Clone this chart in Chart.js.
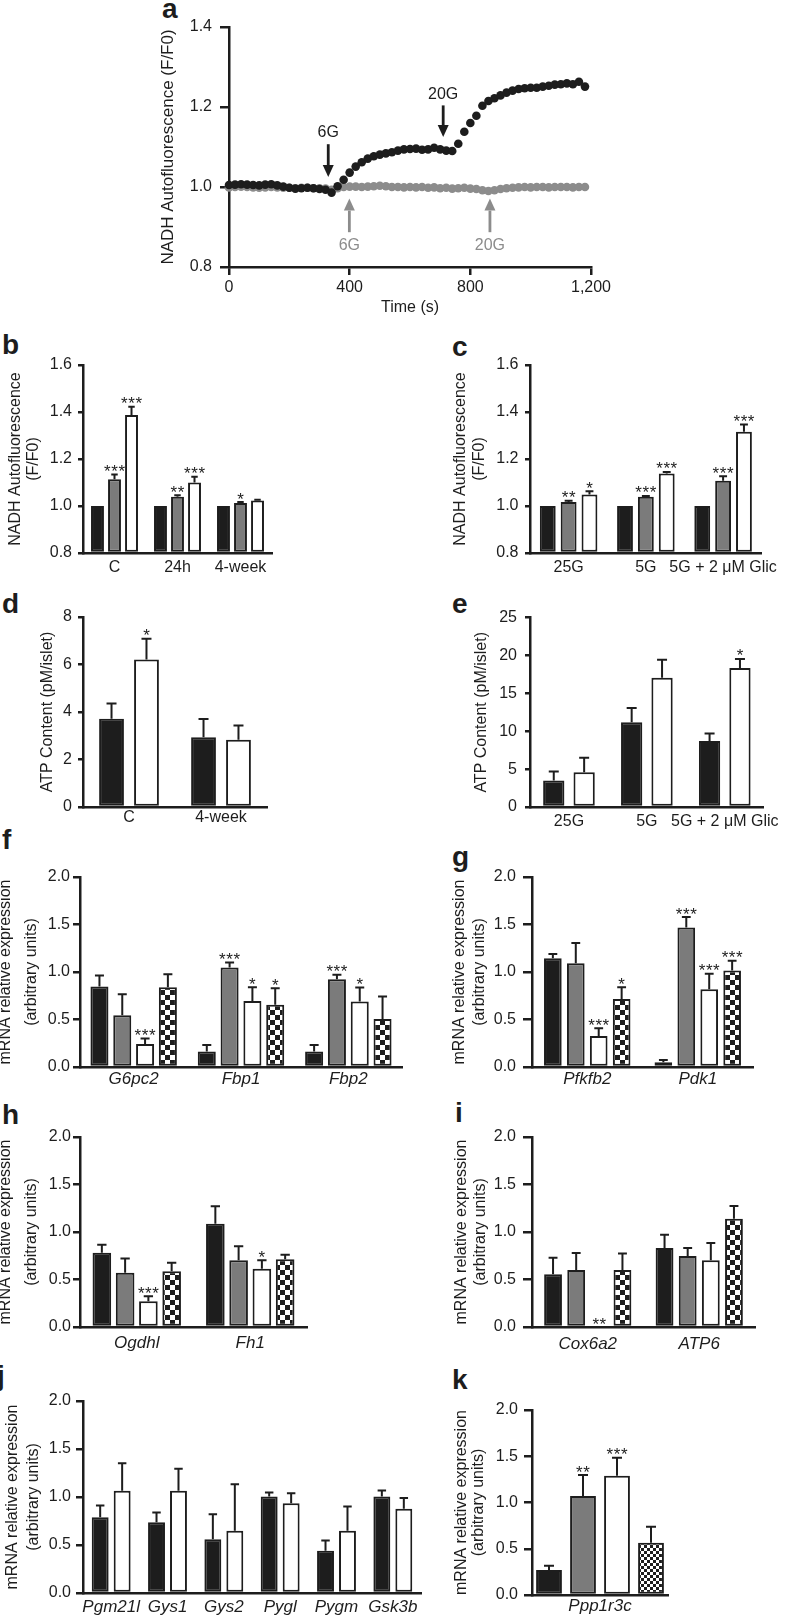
<!DOCTYPE html>
<html>
<head>
<meta charset="utf-8">
<script src="https://cdn.jsdelivr.net/npm/chart.js@4.4.0/dist/chart.umd.min.js"></script>
<style>
    body { margin: 0; background: #fff; width: 788px; height: 1619px; position: relative; overflow: hidden;
           font-family: "Liberation Sans", Arial, sans-serif; }
    canvas { position: absolute; }
    .tag { position: absolute; font-weight: bold; font-size: 28px; line-height: 28px; color: #1d1d1d; }
</style>
</head>
<body>
<div class="tag" style="left:162px;top:-5px">a</div>
<div class="tag" style="left:2px;top:331px">b</div>
<div class="tag" style="left:452px;top:333px">c</div>
<div class="tag" style="left:2px;top:590px">d</div>
<div class="tag" style="left:452px;top:590px">e</div>
<div class="tag" style="left:2px;top:826px">f</div>
<div class="tag" style="left:452px;top:843px">g</div>
<div class="tag" style="left:2px;top:1101px">h</div>
<div class="tag" style="left:455px;top:1099px">i</div>
<div class="tag" style="left:-3px;top:1362px">j</div>
<div class="tag" style="left:452px;top:1366px">k</div>

<canvas id="chartA"></canvas>
<canvas id="chartB"></canvas>
<canvas id="chartC"></canvas>
<canvas id="chartD"></canvas>
<canvas id="chartE"></canvas>
<canvas id="chartF"></canvas>
<canvas id="chartG"></canvas>
<canvas id="chartH"></canvas>
<canvas id="chartI"></canvas>
<canvas id="chartJ"></canvas>
<canvas id="chartK"></canvas>

<script>
// ---------- panel a : NADH trace ----------
const aTime = [0, 20, 40, 60, 80, 100, 120, 140, 160, 180, 200, 220, 240, 260, 280, 300, 320, 340, 360, 380,
               400, 420, 440, 460, 480, 500, 520, 540, 560, 580, 600, 620, 640, 660, 680, 700, 720, 740, 760, 780,
               800, 820, 840, 860, 880, 900, 920, 940, 960, 980, 1000, 1020, 1040, 1060, 1080, 1100, 1120, 1140, 1160, 1180];
const aBlack = [1.005, 1.006, 1.007, 1.006, 1.005, 1.004, 1.006, 1.007, 1.004, 1.001, 0.998, 0.996, 0.997, 0.998, 0.997, 0.995, 0.993, 0.986, 1.002, 1.018,
                1.036, 1.051, 1.062, 1.071, 1.077, 1.081, 1.084, 1.087, 1.091, 1.094, 1.095, 1.096, 1.093, 1.094, 1.098, 1.094, 1.091, 1.090, 1.108, 1.138,
                1.160, 1.178, 1.203, 1.215, 1.222, 1.229, 1.236, 1.241, 1.245, 1.247, 1.248, 1.248, 1.251, 1.253, 1.256, 1.257, 1.259, 1.257, 1.263, 1.251];
const aGray = [0.999, 1.000, 1.001, 1.000, 0.999, 0.998, 0.999, 1.000, 0.999, 0.998, 0.998, 0.997, 0.998, 0.998, 0.997, 0.997, 0.996, 0.993, 0.997, 1.000,
               1.001, 1.001, 1.000, 1.001, 1.002, 1.003, 1.002, 1.000, 1.000, 0.999, 1.000, 0.999, 1.000, 0.998, 0.999, 0.997, 0.998, 0.996, 0.997, 0.998,
               0.996, 0.995, 0.992, 0.990, 0.992, 0.995, 0.997, 0.998, 0.999, 1.000, 0.999, 1.000, 1.000, 0.999, 1.000, 1.000, 1.000, 0.999, 1.000, 1.000];
// glucose additions marked with arrows
const arrowTime = [329, 710, 399, 865];
const arrowTip = [1.025, 1.125, 0.971, 0.971];
const arrowTail = [1.107, 1.204, 0.887, 0.887];
const arrowTextAt = [1.135, 1.232, 0.854, 0.854];
const arrowText = ['6G', '20G', '6G', '20G'];

// ---------- panel b ----------
const bCats = ['C', '24h', '4-week'];
const bBlack = [1.0, 1.0, 1.0];
const bGray = [1.114, 1.039, 1.013];
const bWhite = [1.387, 1.100, 1.023];
const bGrayHi = [1.134, 1.046, 1.017];
const bWhiteHi = [1.422, 1.124, 1.027];
const bGrayStars = ['***', '**', '*'];
const bWhiteStars = ['***', '***', ''];

// ---------- panel c ----------
const cCats = ['25G', '5G', '5G + 2 \u03bcM Glic'];
const cBlack = [1.0, 1.0, 1.0];
const cGray = [1.017, 1.039, 1.107];
const cWhite = [1.049, 1.138, 1.316];
const cGrayHi = [1.022, 1.043, 1.127];
const cWhiteHi = [1.063, 1.145, 1.347];
const cGrayStars = ['**', '***', '***'];
const cWhiteStars = ['*', '***', '***'];

// ---------- panel d ----------
const dCats = ['C', '4-week'];
const dBlack = [3.72, 2.94];
const dWhite = [6.21, 2.83];
const dBlackHi = [4.36, 3.71];
const dWhiteHi = [7.08, 3.43];
const dWhiteStars = ['*', ''];

// ---------- panel e ----------
const eCats = ['25G', '5G', '5G + 2 \u03bcM Glic'];
const eBlack = [3.50, 11.19, 8.70];
const eWhite = [4.59, 17.05, 18.36];
const eBlackHi = [4.68, 13.07, 9.70];
const eWhiteHi = [6.51, 19.45, 19.54];
const eWhiteStars = ['', '', '*'];

// ---------- panel f ----------
const fCats = ['G6pc2', 'Fbp1', 'Fbp2'];
const fBlack = [0.847, 0.162, 0.162];
const fBlackHi = [0.963, 0.232, 0.232];
const fGray = [0.545, 1.047, 0.924];
const fGrayHi = [0.766, 1.100, 0.970];
const fWhite = [0.243, 0.696, 0.690];
const fWhiteHi = [0.300, 0.840, 0.837];
const fCheck = [0.840, 0.654, 0.506];
const fCheckHi = [0.977, 0.830, 0.742];
const fGrayStars = ['', '***', '***'];
const fWhiteStars = ['***', '*', '*'];
const fCheckStars = ['', '*', ''];

// ---------- panel g ----------
const gCats = ['Pfkfb2', 'Pdk1'];
const gBlack = [1.146, 0.050];
const gBlackHi = [1.190, 0.075];
const gGray = [1.093, 1.469];
const gGrayHi = [1.304, 1.578];
const gWhite = [0.327, 0.819];
const gWhiteHi = [0.408, 0.981];
const gCheck = [0.717, 1.016];
const gCheckHi = [0.840, 1.118];
const gGrayStars = ['', '***'];
const gWhiteStars = ['***', '***'];
const gCheckStars = ['*', '***'];

// ---------- panel h ----------
const hCats = ['Ogdhl', 'Fh1'];
const hBlack = [0.782, 1.088];
const hBlackHi = [0.867, 1.270];
const hGray = [0.572, 0.702];
const hGrayHi = [0.720, 0.849];
const hWhite = [0.270, 0.614];
const hWhiteHi = [0.323, 0.702];
const hCheck = [0.586, 0.712];
const hCheckHi = [0.677, 0.761];
const hWhiteStars = ['***', '*'];

// ---------- panel i ----------
const iCats = ['Cox6a2', 'ATP6'];
const iBlack = [0.554, 0.832];
const iBlackHi = [0.730, 0.972];
const iGray = [0.600, 0.747];
const iGrayHi = [0.780, 0.832];
const iWhite = [0, 0.702];
const iWhiteHi = [null, 0.884];
const iCheck = [0.600, 1.140];
const iCheckHi = [0.775, 1.274];
const iWhiteStars = ['**', ''];

// ---------- panel j ----------
const jCats = ['Pgm21l', 'Gys1', 'Gys2', 'Pygl', 'Pygm', 'Gsk3b'];
const jBlack = [0.790, 0.738, 0.560, 1.005, 0.440, 1.005];
const jBlackHi = [0.912, 0.839, 0.820, 1.047, 0.548, 1.068];
const jWhite = [1.064, 1.064, 0.648, 0.936, 0.648, 0.877];
const jWhiteHi = [1.352, 1.293, 1.133, 1.040, 0.900, 0.990];

// ---------- panel k ----------
const kCats = ['Ppp1r3c'];
const kBlack = [0.270];
const kBlackHi = [0.317];
const kGray = [1.070];
const kGrayHi = [1.297];
const kWhite = [1.290];
const kWhiteHi = [1.485];
const kCheck = [0.566];
const kCheckHi = [0.739];
const kGrayStars = ['**'];
const kWhiteStars = ['***'];

// ---------- styling ----------
const INK = '#1d1d1d';
const GRAY = '#7b7b7b';
const DOT_GRAY = '#8c8c8c';
const FONT = '"Liberation Sans", Arial, sans-serif';

function place(canvas, left, top, width, height) {
    canvas.width = width;
    canvas.height = height;
    canvas.style.left = left + 'px';
    canvas.style.top = top + 'px';
}

function checkerTile(cell) {
    const c = document.createElement('canvas');
    c.width = c.height = cell * 2;
    const g = c.getContext('2d');
    g.fillStyle = '#fff';
    g.fillRect(0, 0, cell * 2, cell * 2);
    g.fillStyle = INK;
    g.fillRect(0, 0, cell, cell);
    g.fillRect(cell, cell, cell, cell);
    return c;
}

function fillFor(kind, cell) {
    if (kind === 'k') return INK;
    if (kind === 'g') return GRAY;
    if (kind === 'w') return '#ffffff';
    const tile = checkerTile(cell);
    return (ctx) => ctx.chart.ctx.createPattern(tile, 'repeat');
}

function drawStars(ctx, x, y, n) {
    const gap = 7.2;
    ctx.save();
    ctx.fillStyle = INK;
    ctx.font = '17px ' + FONT;
    ctx.textAlign = 'center';
    ctx.textBaseline = 'alphabetic';
    for (let k = 0; k < n; k++) {
        ctx.fillText('*', x + (k - (n - 1) / 2) * gap, y + 7.5);
    }
    ctx.restore();
}

// SEM whiskers (upper only) and significance marks
const errorBars = {
    id: 'errorBars',
    afterDatasetsDraw(chart) {
        const ctx = chart.ctx;
        const y = chart.scales.y;
        chart.data.datasets.forEach((ds, di) => {
            chart.getDatasetMeta(di).data.forEach((bar, i) => {
                let top = bar.y;
                const hi = ds.errHi ? ds.errHi[i] : null;
                if (hi != null) {
                    const py = y.getPixelForValue(hi);
                    const cap = Math.min(10, bar.width * 0.5) / 2;
                    ctx.save();
                    ctx.strokeStyle = INK;
                    ctx.lineWidth = 2;
                    ctx.beginPath();
                    ctx.moveTo(bar.x, bar.y);
                    ctx.lineTo(bar.x, py);
                    ctx.moveTo(bar.x - cap, py);
                    ctx.lineTo(bar.x + cap, py);
                    ctx.stroke();
                    ctx.restore();
                    top = py;
                }
                const s = ds.stars ? ds.stars[i] : '';
                if (s) drawStars(ctx, bar.x, top - 5, s.length);
            });
        });
    }
};

/**
 * Build one bar panel so that its plot area lands on `area` (page px)
 */
function barPanel(id, p) {
    const [cl, ct, cw, ch] = p.canvas;
    const [L, T, R, B] = p.area;
    const cv = document.getElementById(id);
    place(cv, cl, ct, cw, ch);

    const lh = p.titleX.length > 1 ? p.titleX[1] - p.titleX[0] : 19;
    const titlePad = p.titleX[0] - cl - lh / 2;

    new Chart(cv, {
        type: 'bar',
        data: {
            labels: p.cats,
            datasets: p.sets.map(s => ({
                data: s.data,
                errHi: s.hi || null,
                stars: s.stars || null,
                backgroundColor: fillFor(s.fill, p.cell || 5),
                borderColor: INK,
                borderWidth: 2,
                borderSkipped: false,
                base: p.yMin,
                categoryPercentage: p.cp,
                barPercentage: p.bp
            }))
        },
        options: {
            responsive: false,
            animation: false,
            events: [],
            layout: { padding: { top: T - ct, right: cl + cw - R, left: 0, bottom: 0 } },
            plugins: { legend: { display: false }, tooltip: { enabled: false } },
            scales: {
                x: {
                    grid: { display: false, drawTicks: false, tickLength: 0 },
                    border: { color: INK, width: 2.5 },
                    ticks: {
                        color: INK, autoSkip: false, maxRotation: 0, minRotation: 0,
                        padding: p.labelOffset - 8,
                        font: { family: FONT, size: p.italic ? 17 : 16, style: p.italic ? 'italic' : 'normal', lineHeight: 1 }
                    },
                    afterFit: (s) => { s.height = ct + ch - B; }
                },
                y: {
                    min: p.yMin, max: p.yMax,
                    grid: { drawOnChartArea: false, drawTicks: true, tickLength: p.tick[0], color: INK, lineWidth: 2.5 },
                    border: { color: INK, width: 2.5 },
                    ticks: {
                        stepSize: p.yStep, color: INK, padding: p.tick[1],
                        font: { family: FONT, size: 16 },
                        callback: (v) => Number(v).toFixed(p.dec)
                    },
                    title: {
                        display: true, text: p.title, color: INK,
                        font: { family: FONT, size: 16, lineHeight: lh + 'px' },
                        padding: { top: titlePad, bottom: 0 }
                    },
                    afterFit: (s) => { s.width = L - cl; }
                }
            }
        },
        plugins: [errorBars]
    });
}

// ---------- panel a chart ----------
const arrows = {
    id: 'arrows',
    afterDatasetsDraw(chart) {
        const ctx = chart.ctx;
        const xs = chart.scales.x, ys = chart.scales.y;
        arrowTime.forEach((t, i) => {
            const col = i < 2 ? INK : DOT_GRAY;
            const x = xs.getPixelForValue(t);
            const tip = ys.getPixelForValue(arrowTip[i]);
            const tail = ys.getPixelForValue(arrowTail[i]);
            const dir = Math.sign(tip - tail);
            const headH = 12, headW = 5.5;
            ctx.save();
            ctx.strokeStyle = col;
            ctx.fillStyle = col;
            ctx.lineWidth = 2.8;
            ctx.beginPath();
            ctx.moveTo(x, tail);
            ctx.lineTo(x, tip - dir * headH);
            ctx.stroke();
            ctx.beginPath();
            ctx.moveTo(x, tip);
            ctx.lineTo(x - headW, tip - dir * headH);
            ctx.lineTo(x + headW, tip - dir * headH);
            ctx.closePath();
            ctx.fill();
            ctx.font = '16px ' + FONT;
            ctx.textAlign = 'center';
            ctx.textBaseline = 'middle';
            ctx.fillText(arrowText[i], x, ys.getPixelForValue(arrowTextAt[i]));
            ctx.restore();
        });
    }
};

(function () {
    const cv = document.getElementById('chartA');
    const [cl, ct, cw, ch] = [150, 0, 490, 320];
    const [L, T, R, B] = [229, 27, 591, 267];
    place(cv, cl, ct, cw, ch);
    new Chart(cv, {
        type: 'scatter',
        data: {
            datasets: [
                { data: aTime.map((t, i) => ({ x: t, y: aBlack[i] })), backgroundColor: INK, borderColor: INK,
                  borderWidth: 0, pointRadius: 4.3, clip: false },
                { data: aTime.map((t, i) => ({ x: t, y: aGray[i] })), backgroundColor: DOT_GRAY, borderColor: DOT_GRAY,
                  borderWidth: 0, pointRadius: 4.3, clip: false }
            ]
        },
        options: {
            responsive: false,
            animation: false,
            events: [],
            layout: { padding: { top: T - ct, right: cl + cw - R, left: 0, bottom: 0 } },
            plugins: { legend: { display: false }, tooltip: { enabled: false } },
            scales: {
                x: {
                    type: 'linear', min: 0, max: 1200,
                    grid: { drawOnChartArea: false, drawTicks: true, tickLength: 8, color: INK, lineWidth: 2.5 },
                    border: { color: INK, width: 2.5 },
                    ticks: { stepSize: 400, color: INK, padding: 5, font: { family: FONT, size: 16, lineHeight: 1 },
                             callback: (v) => Number(v).toLocaleString('en-US') },
                    title: { display: true, text: 'Time (s)', color: INK, font: { family: FONT, size: 16 },
                             padding: { top: 0, bottom: 2.4 } },
                    afterFit: (s) => { s.height = ct + ch - B; }
                },
                y: {
                    min: 0.8, max: 1.4,
                    grid: { drawOnChartArea: false, drawTicks: true, tickLength: 9, color: INK, lineWidth: 2.5 },
                    border: { color: INK, width: 2.5 },
                    ticks: { stepSize: 0.2, color: INK, padding: 8, font: { family: FONT, size: 16 },
                             callback: (v) => Number(v).toFixed(1) },
                    title: { display: true, text: 'NADH Autofluorescence (F/F0)', color: INK,
                             font: { family: FONT, size: 17 }, padding: { top: 7.8, bottom: 0 } },
                    afterFit: (s) => { s.width = L - cl; }
                }
            }
        },
        plugins: [arrows]
    });
})();

// ---------- bar panels ----------
const nadhTitle = ['NADH Autofluorescence', '(F/F0)'];
const mrnaTitle = ['mRNA relative expression', '(arbitrary units)'];
const atpTitle = 'ATP Content (pM/islet)';

barPanel('chartB', {
    canvas: [0, 330, 300, 250], area: [83, 365, 272, 553],
    cats: bCats, yMin: 0.8, yMax: 1.6, yStep: 0.2, dec: 1,
    title: nadhTitle, titleX: [15.5, 33.5], labelOffset: 15, tick: [5, 6], cp: 0.81, bp: 0.76,
    sets: [
        { data: bBlack, fill: 'k' },
        { data: bGray, hi: bGrayHi, stars: bGrayStars, fill: 'g' },
        { data: bWhite, hi: bWhiteHi, stars: bWhiteStars, fill: 'w' }
    ]
});

barPanel('chartC', {
    canvas: [440, 330, 348, 250], area: [530, 365, 763, 553],
    cats: cCats, yMin: 0.8, yMax: 1.6, yStep: 0.2, dec: 1,
    title: nadhTitle, titleX: [460.7, 480], labelOffset: 15, tick: [5, 6.5], cp: 0.81, bp: 0.76,
    sets: [
        { data: cBlack, fill: 'k' },
        { data: cGray, hi: cGrayHi, stars: cGrayStars, fill: 'g' },
        { data: cWhite, hi: cWhiteHi, stars: cWhiteStars, fill: 'w' }
    ]
});

barPanel('chartD', {
    canvas: [0, 600, 300, 235], area: [83, 617, 267, 807],
    cats: dCats, yMin: 0, yMax: 8, yStep: 2, dec: 0,
    title: atpTitle, titleX: [47.5], labelOffset: 10.5, tick: [5, 6], cp: 0.76, bp: 0.71,
    sets: [
        { data: dBlack, hi: dBlackHi, fill: 'k' },
        { data: dWhite, hi: dWhiteHi, stars: dWhiteStars, fill: 'w' }
    ]
});

barPanel('chartE', {
    canvas: [440, 600, 348, 235], area: [530, 617, 773, 807],
    cats: eCats, yMin: 0, yMax: 25, yStep: 5, dec: 0,
    title: atpTitle, titleX: [482], labelOffset: 15, tick: [5, 8], cp: 0.78, bp: 0.70,
    sets: [
        { data: eBlack, hi: eBlackHi, fill: 'k' },
        { data: eWhite, hi: eWhiteHi, stars: eWhiteStars, fill: 'w' }
    ]
});

barPanel('chartF', {
    canvas: [-20, 840, 440, 255], area: [80, 877, 402, 1067],
    cats: fCats, yMin: 0, yMax: 2, yStep: 0.5, dec: 1, italic: true,
    title: mrnaTitle, titleX: [6, 32], labelOffset: 12, tick: [7, 3], cp: 0.85, bp: 0.79,
    sets: [
        { data: fBlack, hi: fBlackHi, fill: 'k' },
        { data: fGray, hi: fGrayHi, stars: fGrayStars, fill: 'g' },
        { data: fWhite, hi: fWhiteHi, stars: fWhiteStars, fill: 'w' },
        { data: fCheck, hi: fCheckHi, stars: fCheckStars, fill: 'c' }
    ]
});

barPanel('chartG', {
    canvas: [440, 840, 348, 255], area: [532, 877, 753, 1067],
    cats: gCats, yMin: 0, yMax: 2, yStep: 0.5, dec: 1, italic: true,
    title: mrnaTitle, titleX: [460, 480], labelOffset: 12, tick: [9, 7], cp: 0.83, bp: 0.77,
    sets: [
        { data: gBlack, hi: gBlackHi, fill: 'k' },
        { data: gGray, hi: gGrayHi, stars: gGrayStars, fill: 'g' },
        { data: gWhite, hi: gWhiteHi, stars: gWhiteStars, fill: 'w' },
        { data: gCheck, hi: gCheckHi, stars: gCheckStars, fill: 'c' }
    ]
});

barPanel('chartH', {
    canvas: [-20, 1100, 440, 255], area: [80, 1137, 307, 1327],
    cats: hCats, yMin: 0, yMax: 2, yStep: 0.5, dec: 1, italic: true,
    title: mrnaTitle, titleX: [6, 32], labelOffset: 16, tick: [7, 2], cp: 0.82, bp: 0.80,
    sets: [
        { data: hBlack, hi: hBlackHi, fill: 'k' },
        { data: hGray, hi: hGrayHi, fill: 'g' },
        { data: hWhite, hi: hWhiteHi, stars: hWhiteStars, fill: 'w' },
        { data: hCheck, hi: hCheckHi, fill: 'c' }
    ]
});

barPanel('chartI', {
    canvas: [440, 1100, 348, 255], area: [532, 1137, 755, 1327],
    cats: iCats, yMin: 0, yMax: 2, yStep: 0.5, dec: 1, italic: true,
    title: mrnaTitle, titleX: [461.5, 480.5], labelOffset: 17, tick: [9, 7], cp: 0.83, bp: 0.77,
    sets: [
        { data: iBlack, hi: iBlackHi, fill: 'k' },
        { data: iGray, hi: iGrayHi, fill: 'g' },
        { data: iWhite, hi: iWhiteHi, stars: iWhiteStars, fill: 'w' },
        { data: iCheck, hi: iCheckHi, fill: 'c' }
    ]
});

barPanel('chartJ', {
    canvas: [-20, 1365, 460, 254], area: [83, 1401, 421, 1593],
    cats: jCats, yMin: 0, yMax: 2, yStep: 0.5, dec: 1, italic: true,
    title: mrnaTitle, titleX: [12.2, 33.2], labelOffset: 14, tick: [7, 5], cp: 0.78, bp: 0.77,
    sets: [
        { data: jBlack, hi: jBlackHi, fill: 'k' },
        { data: jWhite, hi: jWhiteHi, fill: 'w' }
    ]
});

barPanel('chartK', {
    canvas: [440, 1365, 348, 254], area: [532, 1410, 668, 1595],
    cats: kCats, yMin: 0, yMax: 2, yStep: 0.5, dec: 1, italic: true, cell: 3,
    title: mrnaTitle, titleX: [461.5, 478.2], labelOffset: 11, tick: [8, 6], cp: 1.0, bp: 0.76,
    sets: [
        { data: kBlack, hi: kBlackHi, fill: 'k' },
        { data: kGray, hi: kGrayHi, stars: kGrayStars, fill: 'g' },
        { data: kWhite, hi: kWhiteHi, stars: kWhiteStars, fill: 'w' },
        { data: kCheck, hi: kCheckHi, fill: 'c' }
    ]
});
</script>
</body>
</html>
